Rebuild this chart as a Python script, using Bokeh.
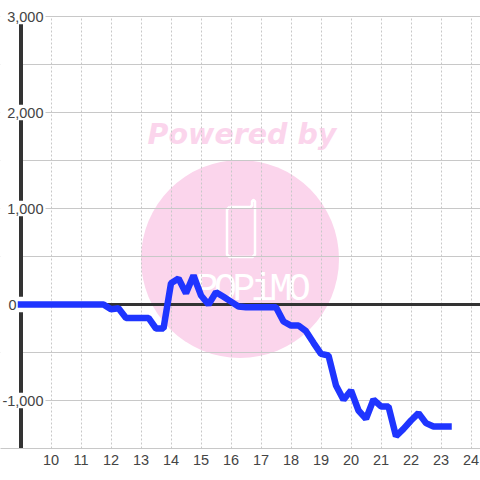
from bokeh.plotting import figure
from bokeh.models import LinearAxis, FixedTicker, Grid, Range1d
from bokeh.core.properties import value
from bokeh.embed import file_html
from bokeh.resources import INLINE

hours = [9, 9.25, 9.5, 9.75, 10, 10.25, 10.5, 10.75, 11, 11.25, 11.5, 11.75, 12, 12.25, 12.5, 12.75, 13, 13.25, 13.5,
         13.75, 14, 14.25, 14.5, 14.75, 15, 15.25, 15.5, 15.75, 16, 16.25, 16.5, 16.75, 17, 17.25, 17.5, 17.75, 18,
         18.25, 18.5, 18.75, 19, 19.25, 19.5, 19.75, 20, 20.25, 20.5, 20.75, 21, 21.25, 21.5, 21.75, 22, 22.25, 22.5,
         22.75, 23, 23.25]
profit = [0, 0, 0, 0, 0, 0, 0, 0, 0, 0, 0, 0, -50, -40, -140, -140, -140, -140, -250,
          -250, 222, 270, 118, 302, 94, 0, 128, 80, 30, -20, -28, -28, -28, -28, -28, -177, -219,
          -219, -278, -399, -514, -531, -844, -993, -896, -1104, -1191, -990, -1062, -1062, -1372, -1295, -1208, -1132,
          -1236, -1271, -1271, -1271]
x_ticks = list(range(10, 25))
y_labelled = [3000, 2000, 1000, -1000]
y_grid = [3000, 2500, 2000, 1500, 1000, 500, -500, -1000, -1500]
y_stem_top = [2920, 1920, 920, -80, -1080]
y_stem_bot = [2080, 1080, 80, -920, -1500]
logo_letters = list("POPiMO")


def X(px):
    return 9 + (px - 20.5) / 30.0


def Y(py):
    return (304 - py) / 0.096


left = X(0)
right = X(480)
top = Y(0)
FONT = "Liberation Sans"
TEXT = "#444444"
DARK = "#333333"
PINK = "#fbd5ec"
GRID = "#c8c8c8"

p = figure(width=480, height=480, output_backend="svg", toolbar_location=None,
           x_range=Range1d(left, right), y_range=Range1d(-1500, top),
           min_border_left=0, min_border_right=0, min_border_top=0, min_border_bottom=32,
           x_axis_type=None, y_axis_type=None, outline_line_color=None)

# watermark, underneath the grid
p.scatter([X(239.5)], [Y(258.5)], size=198, color=PINK, line_color=None, level="image")
p.text([X(241.5)], [Y(134)], text=["Powered by"], text_font=value("DejaVu Sans"), text_font_style="bold italic",
       text_font_size="28.5px", text_color=PINK, text_align="center", text_baseline="middle", level="image")
phone_x = [229, 250, 251.5, 251.5, 253, 254.5, 254.5, 254.5, 252, 229, 226.5, 226.5, 229]
phone_y = [206.5, 206.5, 205, 201, 199.5, 201, 205, 254, 256.5, 256.5, 254, 209, 206.5]
p.line([X(v) for v in phone_x], [Y(v) for v in phone_y], line_color="white", line_width=2.5,
       line_join="round", level="image")
p.text([X(206.5 + 18.5 * i) for i in range(6)], [Y(289)] * 6, text=logo_letters,
       text_font=value("Liberation Mono"), text_font_size="38px", text_color="white",
       text_align="center", text_baseline="middle", level="image")

# grids
p.add_layout(Grid(dimension=0, ticker=FixedTicker(ticks=x_ticks), grid_line_color=GRID, grid_line_dash="2 2",
                  grid_line_width=1))
p.add_layout(Grid(dimension=1, ticker=FixedTicker(ticks=y_grid), grid_line_color=GRID, grid_line_width=1))

# everything left of the axis, above the top line, and the white boxes behind the tick labels
p.quad(left=[left], right=[9], bottom=[-1500], top=[top], fill_color="white", line_color=None)
p.quad(left=[left], right=[right], bottom=[Y(15.4)], top=[top], fill_color="white", line_color=None)
p.quad(left=[left] * 4, right=[X(45)] * 4, bottom=[v - 78 for v in y_labelled],
       top=[v + 78 for v in y_labelled], fill_color="white", line_color=None)

# y axes: fixed inside the frame so that the labels overlap the plot
ya = LinearAxis(ticker=FixedTicker(ticks=y_labelled), fixed_location=X(43),
                axis_line_color=None, major_tick_line_color=None, minor_tick_line_color=None,
                major_tick_in=0, major_tick_out=0, minor_tick_in=0, minor_tick_out=0,
                major_label_text_font=FONT, major_label_text_font_size="14.5px",
                major_label_text_color=TEXT, major_label_standoff=0,
                major_label_overrides={3000: "3,000", 2000: "2,000", 1000: "1,000", -1000: "-1,000"})
p.add_layout(ya, "left")
ya0 = LinearAxis(ticker=FixedTicker(ticks=[0]), fixed_location=X(16),
                 axis_line_color=None, major_tick_line_color=None, minor_tick_line_color=None,
                 major_tick_in=0, major_tick_out=0, minor_tick_in=0, minor_tick_out=0,
                 major_label_text_font=FONT, major_label_text_font_size="14.5px",
                 major_label_text_color=TEXT, major_label_standoff=0)
p.add_layout(ya0, "left")

xa = LinearAxis(ticker=FixedTicker(ticks=x_ticks), axis_line_color=GRID, axis_line_width=1,
                major_tick_line_color=None, minor_tick_line_color=None,
                major_tick_in=0, major_tick_out=0, minor_tick_in=0, minor_tick_out=0,
                major_label_text_font=FONT, major_label_text_font_size="14.5px",
                major_label_text_color=TEXT, major_label_standoff=6)
p.add_layout(xa, "below")

# axis stem in pieces between the labels
p.segment([9] * 5, y_stem_bot, [9] * 5, y_stem_top, line_color=DARK, line_width=4)
p.line([9, right], [0, 0], line_color=DARK, line_width=3)

p.line(hours, profit, line_color="#1f35ff", line_width=6.5, line_join="bevel", line_cap="square")

open("out.html", "w").write(file_html(p, INLINE))
